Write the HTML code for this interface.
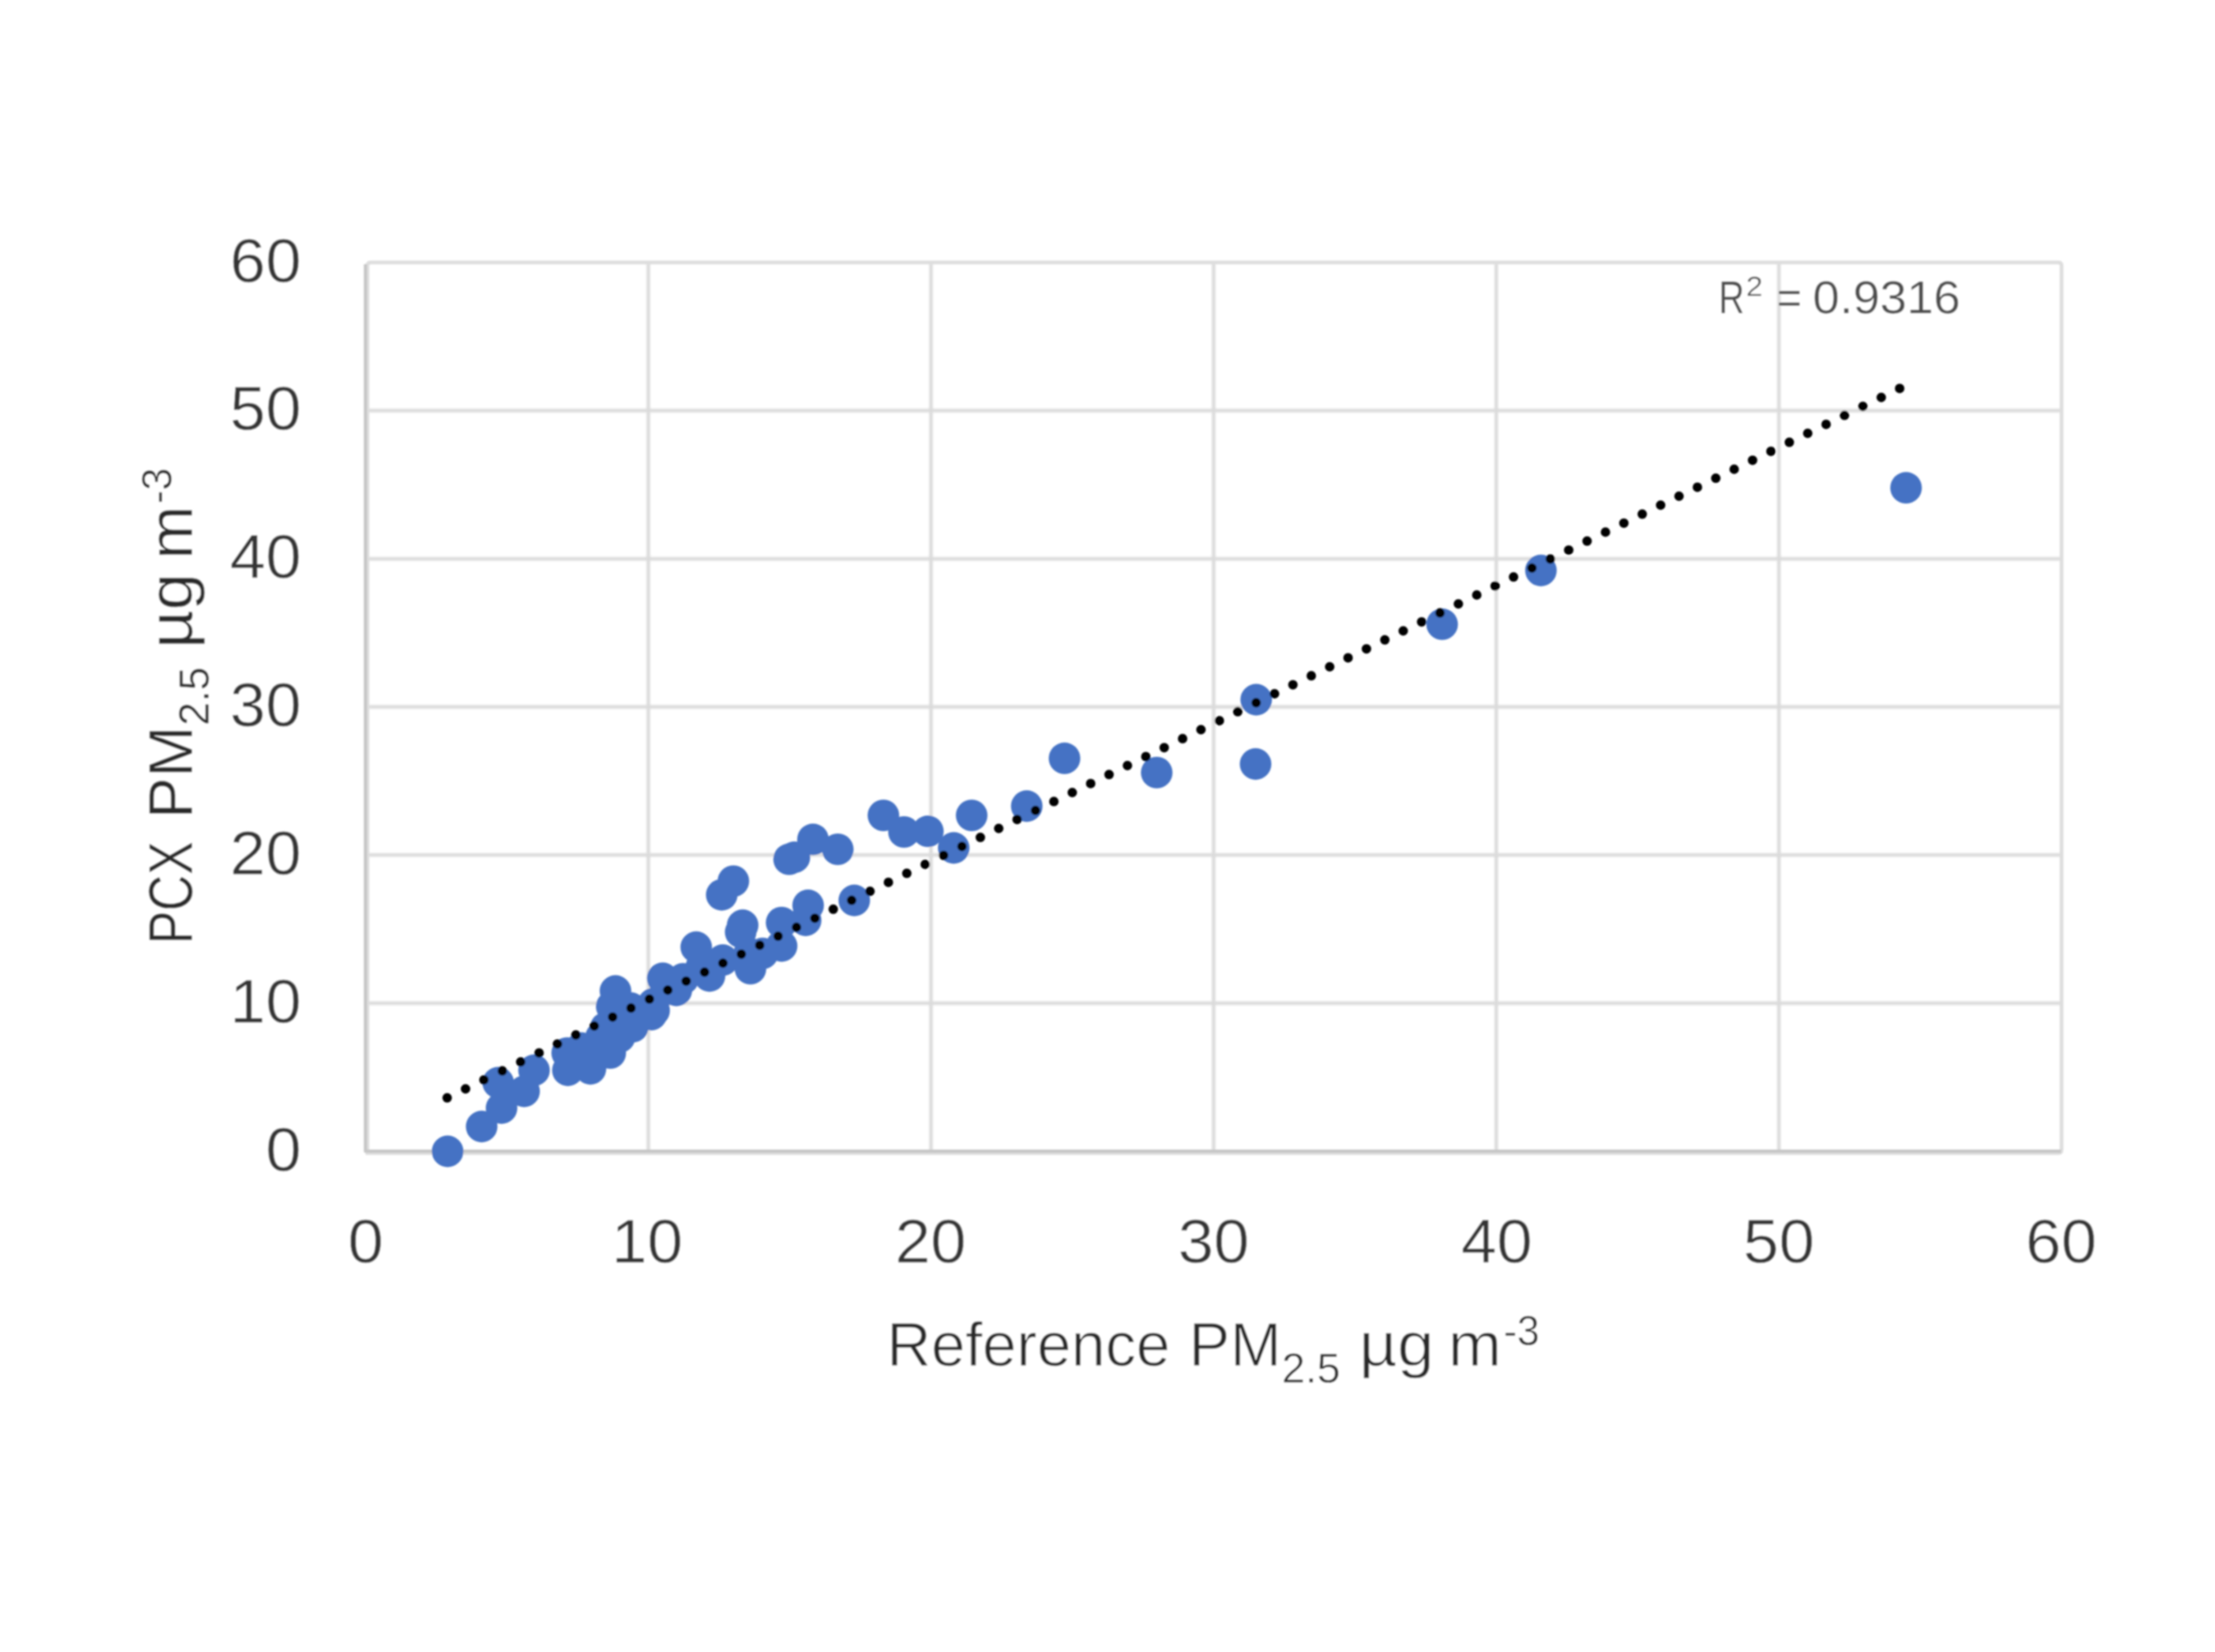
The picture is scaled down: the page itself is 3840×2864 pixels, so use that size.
<!DOCTYPE html>
<html lang="en">
<head>
<meta charset="utf-8">
<title>PCX PM2.5 vs Reference PM2.5</title>
<style>
html,body{margin:0;padding:0;background:#fff;}
body{width:3840px;height:2864px;overflow:hidden;}
svg{display:block;}
text{font-family:"Liberation Sans",sans-serif;fill:#2c2c2c;stroke:#fff;stroke-width:1.3px;}
text.s{stroke-width:0.8px;}
.ytitle text{stroke-width:0.7px;}
.yt text,.xt text{stroke-width:0.8px;fill:#343434;}
.r2 text{fill:#4c4c4c;stroke-width:0.6px;}
</style>
</head>
<body>
<svg width="3840" height="2864" viewBox="0 0 3840 2864">
<defs><filter id="soft" filterUnits="userSpaceOnUse" x="0" y="0" width="3840" height="2864"><feGaussianBlur stdDeviation="1.6"/></filter><filter id="soft2" filterUnits="userSpaceOnUse" x="0" y="0" width="3840" height="2864"><feGaussianBlur stdDeviation="1.5"/></filter></defs>
<rect width="3840" height="2864" fill="#ffffff"/>
<g filter="url(#soft)">
<g stroke="#dadada" stroke-width="6" fill="none" filter="url(#soft2)">
<line x1="1124.0" y1="455.0" x2="1124.0" y2="1996.0"/>
<line x1="1614.0" y1="455.0" x2="1614.0" y2="1996.0"/>
<line x1="2104.0" y1="455.0" x2="2104.0" y2="1996.0"/>
<line x1="2594.0" y1="455.0" x2="2594.0" y2="1996.0"/>
<line x1="3084.0" y1="455.0" x2="3084.0" y2="1996.0"/>
<line x1="634.0" y1="711.8" x2="3574.0" y2="711.8"/>
<line x1="634.0" y1="968.7" x2="3574.0" y2="968.7"/>
<line x1="634.0" y1="1225.5" x2="3574.0" y2="1225.5"/>
<line x1="634.0" y1="1482.3" x2="3574.0" y2="1482.3"/>
<line x1="634.0" y1="1739.2" x2="3574.0" y2="1739.2"/>
</g>
<path d="M637.0 1999.0V461.0Q637.0 455.0 643.0 455.0H3568.0Q3574.0 455.0 3574.0 461.0V1993.0Q3574.0 1999.0 3568.0 1999.0Z" fill="none" stroke="#dedede" stroke-width="6.5"/>
<path d="M633.5 458.0V1995.7H3573.0" fill="none" stroke="#c6c6c6" stroke-width="5.5" stroke-linejoin="round"/>
<g fill="#4472c4">
<circle cx="776" cy="1996" r="27.4"/>
<circle cx="835" cy="1953" r="27.4"/>
<circle cx="869.5" cy="1921" r="27.4"/>
<circle cx="863.7" cy="1877" r="27.4"/>
<circle cx="908.6" cy="1892" r="27.4"/>
<circle cx="925.8" cy="1855.5" r="27.4"/>
<circle cx="984.5" cy="1855.5" r="27.4"/>
<circle cx="1023.6" cy="1853" r="27.4"/>
<circle cx="983.3" cy="1825.6" r="27.4"/>
<circle cx="1058" cy="1825.6" r="27.4"/>
<circle cx="1007.7" cy="1817" r="27.4"/>
<circle cx="1050.2" cy="1781.7" r="27.4"/>
<circle cx="1042" cy="1798" r="27.4"/>
<circle cx="1067" cy="1718" r="27.4"/>
<circle cx="1060.5" cy="1745" r="27.4"/>
<circle cx="1097" cy="1780" r="27.4"/>
<circle cx="1134" cy="1752" r="27.4"/>
<circle cx="1149" cy="1696" r="27.4"/>
<circle cx="1271.4" cy="1527.6" r="27.4"/>
<circle cx="1251.2" cy="1551.3" r="27.4"/>
<circle cx="1368" cy="1489.7" r="27.4"/>
<circle cx="1409.4" cy="1455.2" r="27.4"/>
<circle cx="1452.4" cy="1472.4" r="27.4"/>
<circle cx="1481" cy="1561" r="27.4"/>
<circle cx="1401" cy="1569.5" r="27.4"/>
<circle cx="1396.7" cy="1595.5" r="27.4"/>
<circle cx="1287.5" cy="1604" r="27.4"/>
<circle cx="1284" cy="1616" r="27.4"/>
<circle cx="1355" cy="1599.4" r="27.4"/>
<circle cx="1355" cy="1640" r="27.4"/>
<circle cx="1207" cy="1642" r="27.4"/>
<circle cx="1301" cy="1679.4" r="27.4"/>
<circle cx="1299" cy="1653" r="27.4"/>
<circle cx="1322" cy="1653" r="27.4"/>
<circle cx="1230" cy="1692" r="27.4"/>
<circle cx="1253" cy="1664.5" r="27.4"/>
<circle cx="1184" cy="1697" r="27.4"/>
<circle cx="1172.5" cy="1717" r="27.4"/>
<circle cx="1133" cy="1740" r="27.4"/>
<circle cx="1129" cy="1759" r="27.4"/>
<circle cx="1092.6" cy="1747.4" r="27.4"/>
<circle cx="1074" cy="1798" r="27.4"/>
<circle cx="1377.2" cy="1486.2" r="27.4"/>
<circle cx="1216" cy="1676" r="27.4"/>
<circle cx="1103.5" cy="1754.2" r="27.4"/>
<circle cx="1845.5" cy="1314.7" r="27.4"/>
<circle cx="1780" cy="1397.5" r="27.4"/>
<circle cx="1684.5" cy="1413.6" r="27.4"/>
<circle cx="1653.4" cy="1470" r="27.4"/>
<circle cx="1531.5" cy="1413.6" r="27.4"/>
<circle cx="1567.2" cy="1442.4" r="27.4"/>
<circle cx="1608.6" cy="1441.2" r="27.4"/>
<circle cx="2005.3" cy="1339.4" r="27.4"/>
<circle cx="2177.8" cy="1213" r="27.4"/>
<circle cx="2176.7" cy="1324.5" r="27.4"/>
<circle cx="2500.1" cy="1082.2" r="27.4"/>
<circle cx="2671.4" cy="989" r="27.4"/>
<circle cx="3304.4" cy="845.7" r="27.4"/>
</g>
<line x1="775.2" y1="1903.3" x2="3293.3" y2="673.4" stroke="#000" stroke-width="16.5" stroke-linecap="round" stroke-dasharray="0 35.4735"/>
<g class="yt">
<text transform="translate(398.6 488.5) scale(1.0350 1)" font-size="107.5">60</text>
<text transform="translate(398.6 745.3) scale(1.0350 1)" font-size="107.5">50</text>
<text transform="translate(398.6 1002.2) scale(1.0350 1)" font-size="107.5">40</text>
<text transform="translate(398.6 1259.0) scale(1.0350 1)" font-size="107.5">30</text>
<text transform="translate(398.6 1515.8) scale(1.0350 1)" font-size="107.5">20</text>
<text transform="translate(398.6 1772.7) scale(1.0350 1)" font-size="107.5">10</text>
<text transform="translate(460.5 2029.5) scale(1.0350 1)" font-size="107.5">0</text>
</g>
<g class="xt">
<text transform="translate(603.1 2189.0) scale(1.0350 1)" font-size="107.5">0</text>
<text transform="translate(1060.1 2189.0) scale(1.0350 1)" font-size="107.5">10</text>
<text transform="translate(1551.5 2189.0) scale(1.0350 1)" font-size="107.5">20</text>
<text transform="translate(2042.2 2189.0) scale(1.0350 1)" font-size="107.5">30</text>
<text transform="translate(2533.0 2189.0) scale(1.0350 1)" font-size="107.5">40</text>
<text transform="translate(3022.1 2189.0) scale(1.0350 1)" font-size="107.5">50</text>
<text transform="translate(3511.5 2189.0) scale(1.0350 1)" font-size="107.5">60</text>
</g>
<g class="r2">
<text transform="translate(2979.4 542.5) scale(0.7806 1)" font-size="79.5">R</text>
<text transform="translate(3027.0 513.0) scale(1.0988 1)" font-size="47.7">2</text>
<text transform="translate(3079.9 542.5) scale(0.9421 1)" font-size="79.5">=</text>
<text transform="translate(3142.6 542.5) scale(1.0532 1)" font-size="79.5">0.9316</text>
</g>
<g class="xtitle">
<text transform="translate(1537.3 2368.0) scale(0.9866 1)" font-size="108">Reference</text>
<text transform="translate(2061.0 2368.0) scale(0.9911 1)" font-size="108">PM</text>
<text transform="translate(2222.1 2396.5) scale(1.0165 1)" font-size="72" class="s">2.5</text>
<text transform="translate(2356.0 2368.0) scale(1.0648 1)" font-size="108">µg</text>
<text transform="translate(2510.5 2368.0) scale(1.0303 1)" font-size="108">m</text>
<text transform="translate(2606.7 2331.5) scale(0.9710 1)" font-size="72" class="s">-3</text>
</g>
<g class="ytitle">
<text transform="translate(333.0 1637.1) rotate(-90) scale(0.8041 1)" font-size="108">PCX</text>
<text transform="translate(333.0 1419.0) rotate(-90) scale(0.9911 1)" font-size="108">PM</text>
<text transform="translate(361.5 1257.9) rotate(-90) scale(1.0165 1)" font-size="72" class="s">2.5</text>
<text transform="translate(333.0 1124.0) rotate(-90) scale(1.0648 1)" font-size="108">µg</text>
<text transform="translate(333.0 969.5) rotate(-90) scale(1.0303 1)" font-size="108">m</text>
<text transform="translate(296.5 873.3) rotate(-90) scale(0.9710 1)" font-size="72" class="s">-3</text>
</g>
</g>
</svg>
</body>
</html>
